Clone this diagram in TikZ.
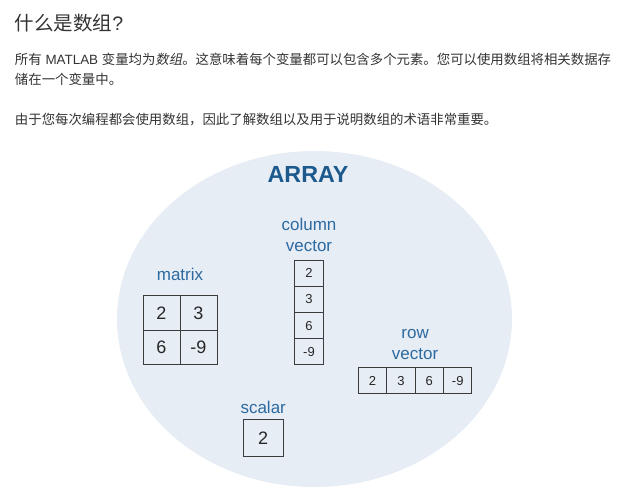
\documentclass[tikz,border=0pt]{standalone}
\usepackage{fontspec}
\setmainfont{Liberation Sans}
\newfontfamily\cjk{Noto Sans CJK SC}
\newfontfamily\cjkslant[FakeSlant=0.2]{Noto Sans CJK SC}
\usepackage{xcolor}
\usetikzlibrary{shapes,positioning}

\definecolor{bodytext}{HTML}{333333}
\definecolor{blobfill}{HTML}{E7EDF5}
\definecolor{arrayblue}{HTML}{1C5A8D}
\definecolor{kindblue}{HTML}{2C6AA0}
\definecolor{boxline}{HTML}{3C3C3C}

\begin{document}
\begin{tikzpicture}[
    x=1pt, y=-1pt,
    every node/.style = {inner sep=0pt, outer sep=0pt},
    textline/.style = {anchor=west, text=bodytext, font=\fontsize{13.4}{16}\selectfont},
    kind/.style = {text=kindblue, align=center, font=\fontsize{17}{21}\selectfont},
    cellbig/.style = {draw=boxline, line width=1pt, fill=blobfill, text=black!85,
                      text height=12.9pt, text depth=0pt,
                      minimum width=37pt, minimum height=34.5pt, font=\fontsize{18}{20}\selectfont},
    cellsmall/.style = {draw=boxline, line width=1pt, fill=blobfill, text=black!85,
                        text height=9.3pt, text depth=0pt,
                        minimum width=28.4pt, minimum height=26.2pt, font=\fontsize{13}{15}\selectfont},
  ]
    \useasboundingbox (0,0) rectangle (625,498);

    % heading and text
    \node[anchor=west, text=bodytext, font=\fontsize{19.5}{22}\selectfont] (title) at (15,23) {{\cjk 什么是数组}?};
    \node[textline] (line1) at (15,59) {{\cjk 所有} MATLAB {\cjk 变量均为}{\cjkslant 数组}{\cjk 。这意味着每个变量都可以包含多个元素。您可以使用数组将相关数据存}};
    \node[textline] (line2) at (15,79.5) {\cjk 储在一个变量中。};
    \node[textline] (line3) at (15,120) {\cjk 由于您每次编程都会使用数组，因此了解数组以及用于说明数组的术语非常重要。};

    % the big ellipse
    \node[ellipse, fill=blobfill, minimum width=395pt, minimum height=336pt] (blob) at (314.5,319) {};
    \node[text=arrayblue, font=\bfseries\fontsize{23.3}{26}\selectfont] (arraylbl) at (308,174) {ARRAY};

    % matrix
    \node[cellbig] (m11) at (161.5,312.75) {2};
    \node[cellbig, right=0pt of m11] (m12) {3};
    \node[cellbig, below=0pt of m11] (m21) {6};
    \node[cellbig, right=0pt of m21] (m22) {-9};
    \node[kind, above=14.5pt of m11.north east] (matlbl) {matrix};

    % column vector
    \node[cellsmall] (c1) at (309,273.1) {2};
    \node[cellsmall, below=0pt of c1] (c2) {3};
    \node[cellsmall, below=0pt of c2] (c3) {6};
    \node[cellsmall, below=0pt of c3] (c4) {-9};
    \node[kind, above=8.3pt of c1] (collbl) {column\\vector};

    % row vector
    \node[cellsmall] (r1) at (372.5,380.8) {2};
    \node[cellsmall, right=0pt of r1] (r2) {3};
    \node[cellsmall, right=0pt of r2] (r3) {6};
    \node[cellsmall, right=0pt of r3] (r4) {-9};
    \node[kind, above=7.7pt of r2.north east] (rowlbl) {row\\vector};

    % scalar
    \node[cellbig, minimum width=39.7pt, minimum height=36.7pt] (s) at (263.2,438.3) {2};
    \node[kind, above=6pt of s] (scalbl) {scalar};
\end{tikzpicture}
\end{document}
